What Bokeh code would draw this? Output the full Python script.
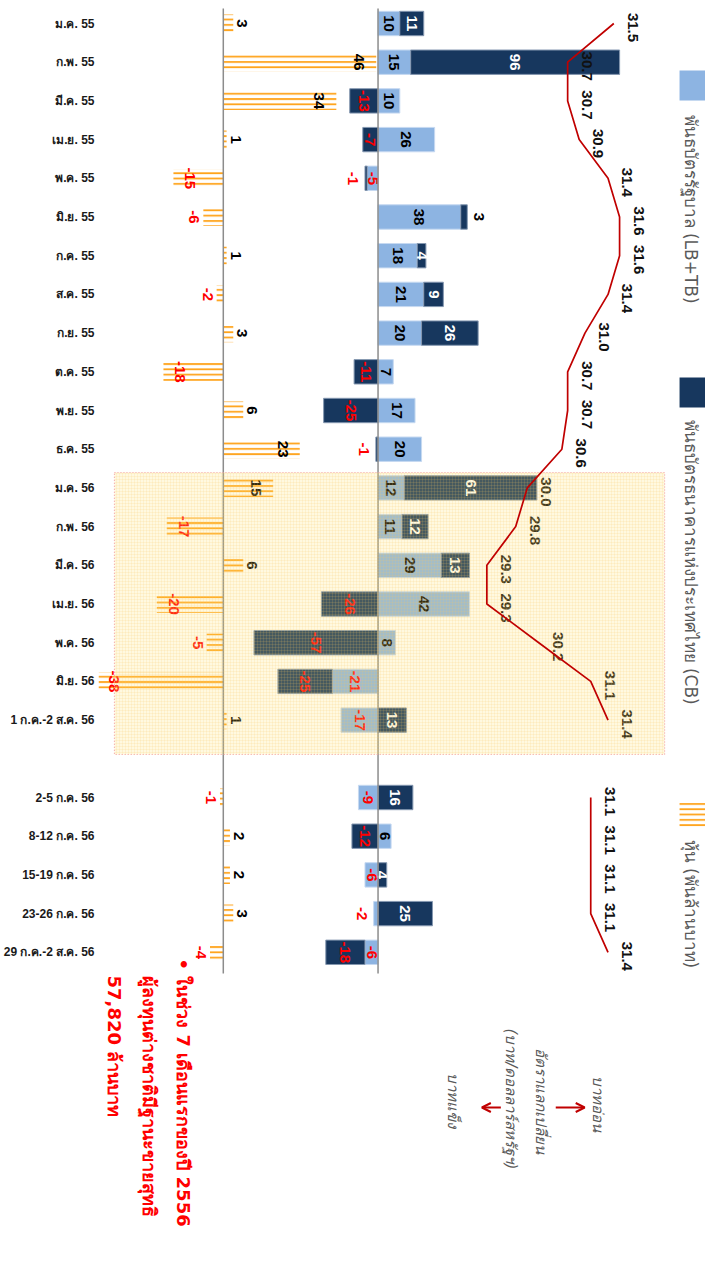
import math
from bokeh.plotting import figure
from bokeh.models import Range1d, FixedTicker, ColumnDataSource, Arrow, OpenHead
from bokeh.core.properties import value
from bokeh.embed import file_html
from bokeh.resources import INLINE

# ---------------- data ----------------
months = ["ม.ค. 55", "ก.พ. 55", "มี.ค. 55", "เม.ย. 55", "พ.ค. 55", "มิ.ย. 55",
          "ก.ค. 55", "ส.ค. 55", "ก.ย. 55", "ต.ค. 55", "พ.ย. 55", "ธ.ค. 55",
          "ม.ค. 56", "ก.พ. 56", "มี.ค. 56", "เม.ย. 56", "พ.ค. 56", "มิ.ย. 56",
          "1 ก.ค.-2 ส.ค. 56"]
weeks = ["2-5 ก.ค. 56", "8-12 ก.ค. 56", "15-19 ก.ค. 56", "23-26 ก.ค. 56",
         "29 ก.ค.-2 ส.ค. 56"]

stock_m = [3, 46, 34, 1, -15, -6, 1, -2, 3, -18, 6, 23, 15, -17, 6, -20, -5, -38, 1]
gov_m = [10, 15, 10, 26, -5, 38, 18, 21, 20, 7, 17, 20, 12, 11, 29, 42, 8, -21, -17]
bot_m = [11, 96, -13, -7, -1, 3, 4, 9, 26, -11, -25, -1, 61, 12, 13, -26, -57, -25, 13]
fx_m = [31.5, 30.7, 30.7, 30.9, 31.4, 31.6, 31.6, 31.4, 31.0, 30.7, 30.7, 30.6,
        30.0, 29.8, 29.3, 29.3, 30.2, 31.1, 31.4]

stock_w = [-1, 2, 2, 3, -4]
gov_w = [-9, 6, -6, -2, -6]
bot_w = [16, -12, 4, 25, -18]
fx_w = [31.1, 31.1, 31.1, 31.1, 31.4]

legend_gov = "พันธบัตรรัฐบาล (LB+TB)"
legend_bot = "พันธบัตรธนาคารแห่งประเทศไทย (CB)"
legend_stock = "หุ้น (พันล้านบาท)"
note_lines = ["• ในช่วง 7 เดือนแรกของปี 2556", "ผู้ลงทุนต่างชาติมีฐานะขายสุทธิ", "57,820 ล้านบาท"]
fx_title = ["อัตราแลกเปลี่ยน", "(บาท/ดอลลาร์สหรัฐฯ)"]
weak_txt = "บาทอ่อน"
strong_txt = "บาทแข็ง"

# ---------------- geometry (page pixels) ----------------
W, H = 705, 1266
FRAME_L, FRAME_R, FRAME_T, FRAME_B = 97, 705, 0, 1266
ROW0_Y, ROW_H = 23, 38.7
STOCK_X0, STOCK_K = 222, 3.33
BOND_X0, BOND_K = 377, 2.18
FX_X0, FX_V0, FX_K = 486, 29.3, 57.8


def row_at(py):
    return (py - ROW0_Y) / ROW_H


def stock_at(px):
    return (px - STOCK_X0) / STOCK_K


def bond_at(px):
    return (px - BOND_X0) / BOND_K


def fx_at(px):
    return FX_V0 + (px - FX_X0) / FX_K


rows_m = list(range(len(months)))
rows_w = [len(months) + 1 + i for i in range(len(weeks))]
rows = rows_m + rows_w
cats = months + weeks
stock = stock_m + stock_w
gov = gov_m + gov_w
bot = bot_m + bot_w

NUM_FONT = "Liberation Sans, Arial, sans-serif"
CAT_FONT = "Liberation Sans, Arial, sans-serif"
LEG_FONT = "Tahoma, DejaVu Sans, sans-serif"
ANG = -math.pi / 2

p = figure(width=W, height=H,
           x_range=Range1d(bond_at(FRAME_L), bond_at(FRAME_R)),
           y_range=Range1d(row_at(FRAME_B), row_at(FRAME_T)),
           x_axis_location=None, y_axis_location="left",
           toolbar_location=None, output_backend="svg",
           min_border=0, min_border_left=FRAME_L, outline_line_color=None)
p.extra_x_ranges = {"stock": Range1d(stock_at(FRAME_L), stock_at(FRAME_R)),
                    "fx": Range1d(fx_at(FRAME_L), fx_at(FRAME_R))}
p.grid.visible = False
p.background_fill_color = "white"

ax = p.yaxis[0]
ax.ticker = FixedTicker(ticks=rows)
ax.major_label_overrides = {r: c for r, c in zip(rows, cats)}
ax.axis_line_color = None
ax.major_tick_line_color = None
ax.minor_tick_line_color = None
ax.major_tick_out = 0
ax.major_tick_in = 0
ax.major_label_standoff = 4
ax.major_label_text_font = CAT_FONT
ax.major_label_text_font_style = "bold"
ax.major_label_text_font_size = "12px"
ax.major_label_text_color = "#1a1a1a"

# ---------------- stock bars ----------------
HATCH = "#FFA31A"
p.hbar(y=rows, left=[min(0, v) for v in stock], right=[max(0, v) for v in stock],
       height=0.47, x_range_name="stock", fill_color=None, line_color=None,
       hatch_pattern="horizontal_line", hatch_color=HATCH, hatch_scale=5.3,
       hatch_weight=1.8)

s_off = []
for v in stock:
    sgn = 1 if v >= 0 else -1
    s_off.append(-sgn * 17 if abs(v) >= 10 else sgn * 9)
src_sl = ColumnDataSource(dict(x=stock, y=rows, text=[str(v) for v in stock],
                               color=["#000000" if v >= 0 else "#FF0000" for v in stock],
                               xoff=s_off))
p.text(x="x", y="y", text="text", source=src_sl, x_range_name="stock", angle=ANG,
       text_align="center", text_baseline="middle", text_color="color", x_offset="xoff",
       text_font=value(NUM_FONT), text_font_style="bold", text_font_size="15px")

# ---------------- bond bars ----------------
GOV_C, BOT_C = "#8DB4E2", "#17375E"
gov_l = [min(0, g) for g in gov]
gov_r = [max(0, g) for g in gov]
bot_s = [g if (b >= 0) == (g >= 0) else 0 for g, b in zip(gov, bot)]
bot_e = [s + b for s, b in zip(bot_s, bot)]
p.hbar(y=rows, left=gov_l, right=gov_r, height=0.63, fill_color=GOV_C,
       line_color="#C6D9F1", line_width=1)
p.hbar(y=rows, left=[min(s, e) for s, e in zip(bot_s, bot_e)],
       right=[max(s, e) for s, e in zip(bot_s, bot_e)],
       height=0.63, fill_color=BOT_C, line_color="#8497B0", line_width=1)

lx, ly, lt, lc, lo = [], [], [], [], []
for r, g, s, e, b in zip(rows, gov, bot_s, bot_e, bot):
    # government bonds
    if abs(g) <= 3:
        lx.append(g); lo.append(12 if g >= 0 else -12)
    else:
        lx.append(g / 2); lo.append(0)
    ly.append(r); lt.append(str(g)); lc.append("#000000" if g >= 0 else "#FF0000")
    # BOT bonds
    if abs(b) <= 3:
        lx.append(e); lo.append(12 if b >= 0 else -12)
        lc.append("#000000" if b >= 0 else "#FF0000")
    else:
        lx.append((s + e) / 2); lo.append(0)
        lc.append("#FFFFFF" if b >= 0 else "#FF0000")
    ly.append(r); lt.append(str(b))
src_bl = ColumnDataSource(dict(x=lx, y=ly, text=lt, color=lc, xoff=lo))
p.text(x="x", y="y", text="text", source=src_bl, angle=ANG,
       text_align="center", text_baseline="middle", text_color="color", x_offset="xoff",
       text_font=value(NUM_FONT), text_font_style="bold", text_font_size="15px")

# ---------------- exchange-rate labels ----------------
src_fx = ColumnDataSource(dict(x=fx_m + fx_w, y=rows, text=[f"{v:.1f}" for v in fx_m + fx_w]))
p.text(x="x", y="y", text="text", source=src_fx, x_range_name="fx", angle=ANG,
       x_offset=19, y_offset=4, text_align="center", text_baseline="middle",
       text_color="#111111", text_font=value(NUM_FONT), text_font_style="bold",
       text_font_size="15px")

# ---------------- baselines ----------------
top_r, bot_r = row_at(8), row_at(973)
p.segment(x0=[0], x1=[0], y0=[top_r], y1=[bot_r], x_range_name="stock",
          line_color="#8c8c8c", line_width=1.5)
p.segment(x0=[0], x1=[0], y0=[top_r], y1=[bot_r], line_color="#8c8c8c", line_width=1.5)

# ---------------- highlighted period ----------------
p.quad(left=[stock_at(113)], right=[stock_at(664)], top=[row_at(472)], bottom=[row_at(754)],
       x_range_name="stock", fill_color="#FFE066", fill_alpha=0.2,
       hatch_pattern="cross", hatch_color="#F7C35F", hatch_alpha=0.3, hatch_scale=3,
       hatch_weight=0.5, line_color="#F4A0A0", line_dash="1 2", line_width=1.2)

# ---------------- exchange-rate line ----------------
p.line(x=fx_m, y=rows_m, x_range_name="fx", line_color="#C00000", line_width=1.7)
p.line(x=fx_w, y=rows_w, x_range_name="fx", line_color="#C00000", line_width=1.7)

# ---------------- legend ----------------
p.quad(left=[fx_at(679)], right=[fx_at(705)], top=[row_at(70)], bottom=[row_at(100)],
       x_range_name="fx", fill_color=GOV_C, line_color=None)
p.quad(left=[fx_at(679)], right=[fx_at(705)], top=[row_at(377)], bottom=[row_at(407)],
       x_range_name="fx", fill_color=BOT_C, line_color=None)
p.quad(left=[fx_at(679)], right=[fx_at(705)], top=[row_at(801)], bottom=[row_at(826)],
       x_range_name="fx", fill_color=None, line_color=None,
       hatch_pattern="horizontal_line", hatch_color=HATCH, hatch_scale=5.3, hatch_weight=1.8)
p.text(x=[fx_at(690)] * 3, y=[row_at(114), row_at(419), row_at(839)],
       text=[legend_gov, legend_bot, legend_stock], x_range_name="fx", angle=ANG,
       text_align="left", text_baseline="middle", text_color="#595959",
       text_font=value(LEG_FONT), text_font_size="17px")

# ---------------- notes ----------------
p.text(x=[stock_at(182), stock_at(148), stock_at(113)],
       y=[row_at(958), row_at(975), row_at(975)], text=note_lines, x_range_name="stock",
       angle=ANG, text_align="left", text_baseline="middle", text_color="#FF0000",
       text_font=value(LEG_FONT), text_font_style="bold", text_font_size="18px")

p.text(x=[fx_at(597), fx_at(540), fx_at(510), fx_at(452)],
       y=[row_at(1075), row_at(1047), row_at(1028), row_at(1072)],
       text=[weak_txt, fx_title[0], fx_title[1], strong_txt], x_range_name="fx",
       angle=ANG, text_align="left", text_baseline="middle", text_color="#595959",
       text_font=value(LEG_FONT), text_font_style="italic", text_font_size="15px")

for xs, xe in [(555, 584), (500, 481)]:
    p.add_layout(Arrow(end=OpenHead(size=9, line_color="#C00000", line_width=2),
                       x_start=fx_at(xs), x_end=fx_at(xe), y_start=row_at(1107),
                       y_end=row_at(1107), line_color="#C00000", line_width=2,
                       x_range_name="fx"))

open("out.html", "w").write(file_html(p, INLINE))
